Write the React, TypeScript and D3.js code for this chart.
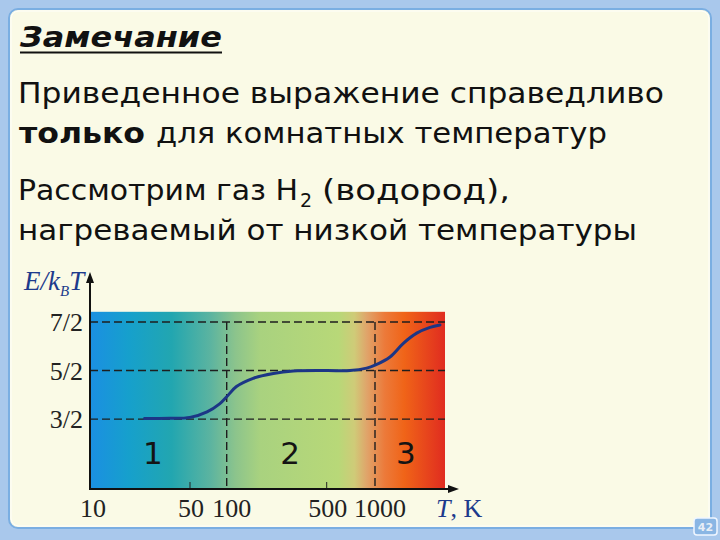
import React from "react";
import * as d3 from "d3";

// ---- data ----
const curveT = [24, 36, 50, 69, 88, 100, 117, 153, 212, 292, 500, 699, 887, 1000, 1266, 1560, 1924, 2371, 2773];
const curveE = [1.51, 1.515, 1.535, 1.65, 1.82, 1.96, 2.17, 2.34, 2.44, 2.49, 2.5, 2.5, 2.55, 2.61, 2.78, 3.06, 3.27, 3.39, 3.44];
const yLevels = [3.5, 2.5, 1.5];
const yLabels = ["7/2", "5/2", "3/2"];
const xTicks = [10, 50, 100, 500, 1000];
const xTickLabels = ["10", "50", "100", "500", "1000"];
const minorTicks = [50, 500];
const regionBounds = [100, 1000];
const regionLabels = ["1", "2", "3"];
const regionAt = [27.5, 277, 1625];

const W = 720;
const H = 540;

export default function App() {
  const x = d3
    .scaleLog()
    .domain([10, 50, 100, 500, 1000, 3000])
    .range([90, 190, 226.7, 326.7, 375, 445]);
  const y = d3.scaleLinear().domain([0.06, 3.5]).range([489, 322]);
  const x0 = x(10);
  const x1 = x(3000);
  const yTop = y(3.71);
  const yBot = y(0.06);

  const pts: [number, number][] = curveT.map((t, i) => [x(t), y(curveE[i])]);
  const line = d3.line().curve(d3.curveCatmullRom.alpha(0.5))(pts) || "";

  const gradStops: [number, string][] = [
    [0, "#1b8fe2"],
    [0.11, "#16a0cc"],
    [0.23, "#22a6b0"],
    [0.34, "#5cb4a0"],
    [0.41, "#8cc48c"],
    [0.48, "#a9d27f"],
    [0.7, "#b8d878"],
    [0.745, "#cfcb78"],
    [0.78, "#e0a46a"],
    [0.83, "#ec7a3a"],
    [0.885, "#f06418"],
    [1, "#e02c20"],
  ];

  const serif = "'Liberation Serif', 'DejaVu Serif', serif";
  const sans = "'DejaVu Sans', Verdana, sans-serif";
  const blue = "#1d3a8c";
  const fs = 27.5;

  return (
    <svg
      width={W}
      height={H}
      viewBox={`0 0 ${W} ${H}`}
      style={{ position: "absolute", left: 0, top: 0, display: "block" }}
    >
      <defs>
        <linearGradient id="bg" gradientUnits="userSpaceOnUse" x1={x0} y1={0} x2={x1} y2={0}>
          {gradStops.map(([o, c], i) => (
            <stop key={i} offset={o} stopColor={c} />
          ))}
        </linearGradient>
      </defs>
      {/* slide frame */}
      <rect x={0} y={0} width={W} height={H} fill="#a9c8ec" />
      <rect x={9} y={9} width={702} height={519} rx={9} fill="#fafae6" stroke="#7aaee2" strokeWidth={2} />
      <rect x={11} y={11} width={698} height={515} rx={8} fill="none" stroke="#ffffff" strokeWidth={1} opacity={0.8} />
      <rect x={694} y={518} width={23} height={17} rx={3} fill="#8ab6e4" stroke="#f0f6ff" strokeWidth={1.5} />
      <text x={705.5} y={531} textAnchor="middle" fontFamily={sans} fontSize={11} fontWeight="bold" fill="#e8eef6">
        42
      </text>

      {/* title and text */}
      <text x={20} y={47} fontFamily={sans} fontSize={29} fontWeight="bold" fontStyle="italic" fill="#111"
        textLength={202} lengthAdjust="spacingAndGlyphs">
        Замечание
      </text>
      <line x1={20} x2={222} y1={52.5} y2={52.5} stroke="#111" strokeWidth={2} />

      <text x={18} y={103} fontFamily={sans} fontSize={fs} fill="#111" textLength={646} lengthAdjust="spacingAndGlyphs">
        Приведенное выражение справедливо
      </text>
      <text x={19} y={143} fontFamily={sans} fontSize={fs} fontWeight="bold" fill="#111" textLength={126} lengthAdjust="spacingAndGlyphs">
        только
      </text>
      <text x={156} y={143} fontFamily={sans} fontSize={fs} fill="#111" textLength={451} lengthAdjust="spacingAndGlyphs">
        для комнатных температур
      </text>
      <text x={18} y={200} fontFamily={sans} fontSize={fs} fill="#111" textLength={280} lengthAdjust="spacingAndGlyphs">
        Рассмотрим газ H
      </text>
      <text x={300} y={207} fontFamily={sans} fontSize={19} fill="#111">
        2
      </text>
      <text x={322} y={200} fontFamily={sans} fontSize={fs} fill="#111" textLength={188} lengthAdjust="spacingAndGlyphs">
        (водород),
      </text>
      <text x={18} y={240} fontFamily={sans} fontSize={fs} fill="#111" textLength={619} lengthAdjust="spacingAndGlyphs">
        нагреваемый от низкой температуры
      </text>

      {/* chart background */}
      <rect x={x0} y={yTop} width={x1 - x0} height={yBot - yTop} fill="url(#bg)" />

      {/* dashed grid */}
      {yLevels.map((v, i) => (
        <line key={"h" + i} x1={x0} x2={x1} y1={y(v)} y2={y(v)} stroke="#1e1e1e" strokeWidth={1.4} strokeDasharray="8 4" />
      ))}
      {regionBounds.map((t, i) => (
        <line key={"v" + i} x1={x(t)} x2={x(t)} y1={y(3.5)} y2={yBot} stroke="#1e1e1e" strokeWidth={1.4} strokeDasharray="8 4" />
      ))}
      {minorTicks.map((t, i) => (
        <line key={"m" + i} x1={x(t)} x2={x(t)} y1={yBot - 7} y2={yBot} stroke="#222" strokeWidth={1} />
      ))}

      {/* curve */}
      <path d={line} fill="none" stroke="#1c3686" strokeWidth={3} strokeLinecap="round" />

      {/* region labels */}
      {regionLabels.map((l, i) => (
        <text key={"r" + i} x={x(regionAt[i])} y={464} textAnchor="middle" fontFamily={sans} fontSize={31} fill="#141414">
          {l}
        </text>
      ))}

      {/* axes */}
      <line x1={x0} x2={x0} y1={yBot + 1} y2={280} stroke="#111" strokeWidth={2} />
      <path d={`M${x0},272 L${x0 - 4},283 L${x0 + 4},283 Z`} fill="#111" />
      <line x1={x0 - 1} x2={450} y1={yBot} y2={yBot} stroke="#111" strokeWidth={2} />
      <path d={`M459,${yBot} L448,${yBot - 4} L448,${yBot + 4} Z`} fill="#111" />

      {/* y labels */}
      {yLevels.map((v, i) => (
        <text key={"yl" + i} x={83} y={y(v) + 9} textAnchor="end" fontFamily={serif} fontSize={26} fill="#222">
          {yLabels[i]}
        </text>
      ))}
      <text x={24} y={290} fontFamily={serif} fontSize={27} fontStyle="italic" fill={blue}>
        E/k
        <tspan fontSize={15} dy={6}>B</tspan>
        <tspan dy={-6}>T</tspan>
      </text>

      {/* x labels */}
      {xTicks.map((t, i) => (
        <text key={"xl" + i} x={x(t) + (i === 0 ? 3 : i % 2 === 0 ? 5 : 1)} y={517} textAnchor="middle" fontFamily={serif} fontSize={26} fill="#222">
          {xTickLabels[i]}
        </text>
      ))}
      <text x={436} y={517} fontFamily={serif} fontSize={26} fill={blue}>
        <tspan fontStyle="italic">T</tspan>, K
      </text>
    </svg>
  );
}
